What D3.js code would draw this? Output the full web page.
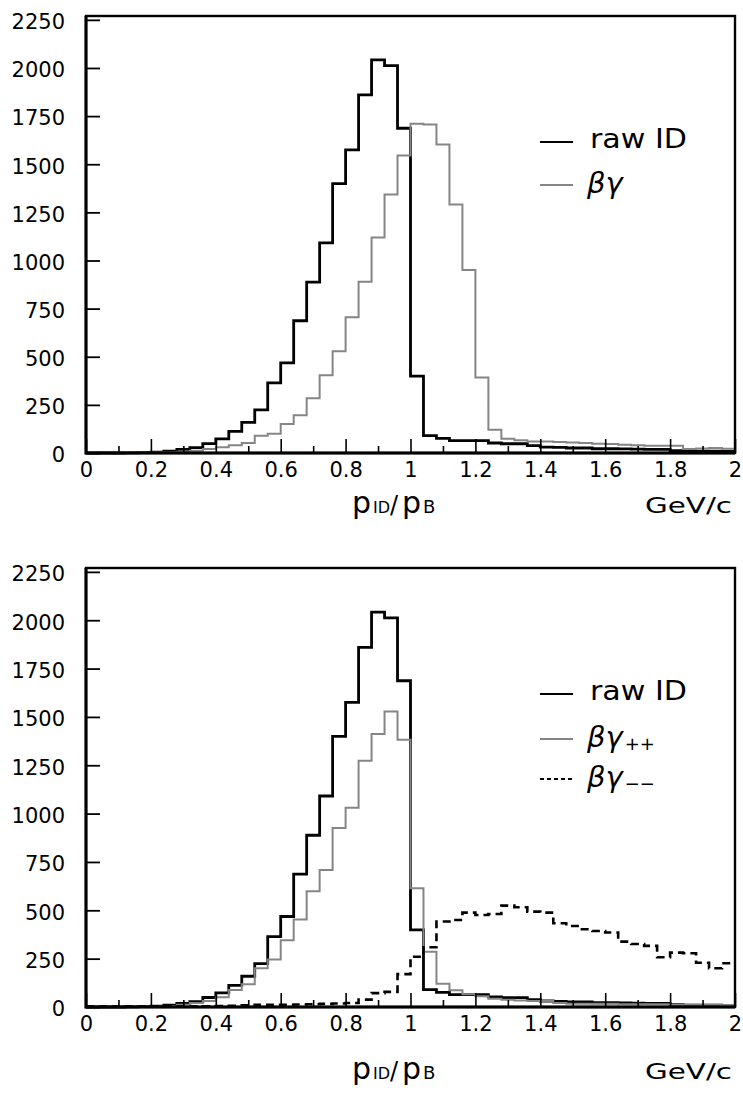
<html>
<head>
<title>p_ID / p_B</title>
<script src="https://d3js.org/d3.v7.min.js"></script>
<style>
  body { margin: 0; background: #fff; }
  text { font-family: "DejaVu Sans", sans-serif; fill: #000; }
</style>
</head>
<body>
<script>
// lower edges of the 50 bins (width 0.04)
let binEdges = [0, 0.04, 0.08, 0.12, 0.16, 0.2, 0.24, 0.28, 0.32, 0.36,
                0.4, 0.44, 0.48, 0.52, 0.56, 0.6, 0.64, 0.68, 0.72, 0.76,
                0.8, 0.84, 0.88, 0.92, 0.96, 1, 1.04, 1.08, 1.12, 1.16,
                1.2, 1.24, 1.28, 1.32, 1.36, 1.4, 1.44, 1.48, 1.52, 1.56,
                1.6, 1.64, 1.68, 1.72, 1.76, 1.8, 1.84, 1.88, 1.92, 1.96];
let binEnd = 2;

let rawID = [0, 0, 0, 1, 2, 4, 10, 19, 28, 49,
             73, 112, 159, 224, 364, 468, 687, 888, 1091, 1399,
             1575, 1860, 2042, 2012, 1687, 399, 90, 76, 64, 64,
             64, 52, 48, 48, 38, 31, 29, 26, 26, 22,
             22, 21, 20, 19, 19, 12, 10, 10, 9, 8];

let betaGamma = [0, 0, 0, 0, 1, 2, 4, 6, 12, 21,
                 30, 40, 52, 90, 100, 150, 196, 285, 404, 528,
                 705, 890, 1120, 1343, 1546, 1710, 1706, 1603, 1291, 950,
                 392, 121, 74, 66, 60, 60, 57, 55, 52, 48,
                 47, 43, 40, 38, 38, 38, 21, 24, 26, 22];

let betaGammaPP = [0, 0, 0, 0, 1, 2, 5, 12, 21, 31,
                   50, 88, 118, 200, 245, 345, 452, 598, 708, 925,
                   1030, 1273, 1412, 1528, 1382, 614, 286, 120, 86, 66,
                   55, 43, 38, 34, 31, 31, 21, 17, 17, 17,
                   17, 14, 14, 14, 14, 12, 12, 12, 12, 10];

let betaGammaMM = [3, 2, 2, 2, 2, 2, 3, 3, 3, 4,
                   5, 6, 9, 11, 12, 12, 13, 14, 16, 18,
                   21, 38, 72, 78, 170, 260, 309, 442, 450, 488,
                   476, 481, 524, 516, 493, 488, 433, 419, 402, 393,
                   385, 338, 326, 316, 257, 281, 278, 229, 200, 226];

let yTicks = [0, 250, 500, 750, 1000, 1250, 1500, 1750, 2000, 2250];
let xMajorTicks = [0, 0.2, 0.4, 0.6, 0.8, 1, 1.2, 1.4, 1.6, 1.8, 2];
let xMinorTicks = [0.1, 0.3, 0.5, 0.7, 0.9, 1.1, 1.3, 1.5, 1.7, 1.9];

var svg = d3.select("body").append("svg").attr("width", 743).attr("height", 1099);
svg.append("rect").attr("width", 743).attr("height", 1099).attr("fill", "#fff");

let plotLeft = 86, plotRight = 735;
let grey = "#858585";
let xScale = d3.scaleLinear().domain([0, 2]).range([plotLeft, plotRight]);

function histPoints(vals) {
    let pts = binEdges.map((e, i) => [e, vals[i]]);
    pts.push([binEnd, vals[vals.length - 1]]);
    return pts;
}

function drawPanel(frameTop, axisY, series, legend, titleY) {
    let yScale = d3.scaleLinear().domain([0, 2270]).range([axisY, frameTop]);
    let g = svg.append("g");

    // histograms
    let lineGen = d3.line()
        .x(d => xScale(d[0]))
        .y(d => yScale(d[1]))
        .curve(d3.curveStepAfter);
    series.forEach(s => {
        g.append("path")
            .datum(histPoints(s.values))
            .attr("fill", "none")
            .attr("stroke", s.color)
            .attr("stroke-width", s.width)
            .attr("stroke-dasharray", s.dash || null)
            .attr("d", lineGen);
    });

    // y axis
    let yAxis = g.append("g").attr("transform", "translate(" + plotLeft + ",0)")
        .call(d3.axisLeft(yScale).tickValues(yTicks).tickSize(-14).tickPadding(21)
            .tickFormat(d3.format("d")));
    yAxis.select(".domain").remove();
    yAxis.selectAll("line").attr("stroke-width", 1.8);
    yAxis.selectAll("text").attr("font-size", 21).attr("font-family", "DejaVu Sans")
        .attr("dy", "0.42em");

    // x axis, minor then major ticks
    let xMinor = g.append("g").attr("transform", "translate(0," + axisY + ")")
        .call(d3.axisBottom(xScale).tickValues(xMinorTicks).tickSize(-7).tickFormat(""));
    xMinor.select(".domain").remove();
    xMinor.selectAll("line").attr("stroke-width", 1.6);

    let xAxis = g.append("g").attr("transform", "translate(0," + axisY + ")")
        .call(d3.axisBottom(xScale).tickValues(xMajorTicks).tickSize(-14).tickPadding(9)
            .tickFormat(d3.format("~g")));
    xAxis.select(".domain").remove();
    xAxis.selectAll("line").attr("stroke-width", 1.6);
    xAxis.selectAll("text").attr("font-size", 21).attr("font-family", "DejaVu Sans");

    // frame
    g.append("rect")
        .attr("x", plotLeft).attr("y", frameTop)
        .attr("width", plotRight - plotLeft).attr("height", axisY - frameTop)
        .attr("fill", "none").attr("stroke", "#000").attr("stroke-width", 2.4);
    g.append("path")
        .attr("d", "M" + plotLeft + "," + frameTop + "V" + axisY + "H" + plotRight)
        .attr("fill", "none").attr("stroke", "#000").attr("stroke-width", 3);

    // legend
    legend.forEach(l => {
        g.append("line")
            .attr("x1", 540).attr("x2", 573).attr("y1", l.y).attr("y2", l.y)
            .attr("stroke", l.color).attr("stroke-width", 1.8)
            .attr("stroke-dasharray", l.dash || null);
        if (l.greek) {
            let t = g.append("text").attr("x", 587).attr("y", l.y + 8)
                .attr("font-size", 29).attr("font-style", "italic");
            t.append("tspan").text(l.label);
            if (l.sub) {
                t.append("tspan").attr("font-size", 18).attr("font-style", "normal")
                    .attr("dx", 2).attr("dy", 3).text(l.sub);
            }
        } else {
            g.append("text").attr("x", 590).attr("y", l.y + 6)
                .attr("font-size", 26).attr("textLength", 97)
                .attr("lengthAdjust", "spacingAndGlyphs").text(l.label);
        }
    });

    // axis titles
    g.append("text").attr("x", 352).attr("y", titleY).attr("font-size", 30).text("p");
    g.append("text").attr("x", 373).attr("y", titleY).attr("font-size", 16).text("ID");
    g.append("text").attr("x", 390).attr("y", titleY).attr("font-size", 24).text("/");
    g.append("text").attr("x", 402).attr("y", titleY).attr("font-size", 30).text("p");
    g.append("text").attr("x", 423).attr("y", titleY).attr("font-size", 18).text("B");
    g.append("text").attr("x", 645).attr("y", titleY).attr("font-size", 21)
        .attr("textLength", 87).attr("lengthAdjust", "spacingAndGlyphs").text("GeV/c");
}

drawPanel(16, 453,
    [{values: rawID, color: "#000", width: 2.8},
     {values: betaGamma, color: grey, width: 2}],
    [{y: 142, color: "#000", label: "raw ID"},
     {y: 185, color: grey, label: "βγ", greek: true}],
    513);

drawPanel(568, 1007,
    [{values: rawID, color: "#000", width: 2.8},
     {values: betaGammaPP, color: grey, width: 2},
     {values: betaGammaMM, color: "#000", width: 2.6, dash: "8,5"}],
    [{y: 694, color: "#000", label: "raw ID"},
     {y: 739, color: grey, label: "βγ", greek: true, sub: "++"},
     {y: 779, color: "#000", label: "βγ", greek: true, sub: "−−", dash: "4,3"}],
    1079);
</script>
</body>
</html>
